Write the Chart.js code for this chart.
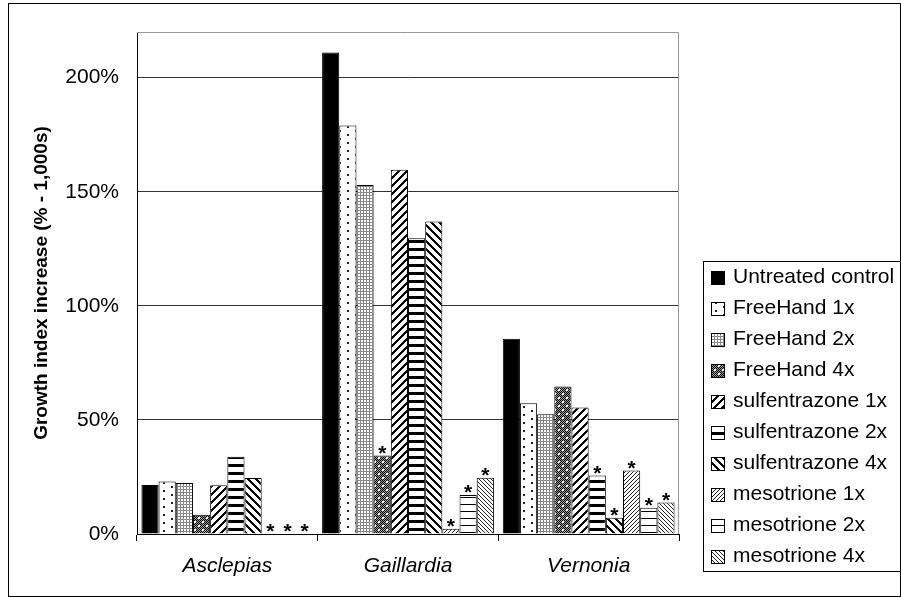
<!DOCTYPE html>
<html>
<head>
<meta charset="utf-8">
<script src="https://cdn.jsdelivr.net/npm/chart.js@4/dist/chart.umd.min.js"></script>
<style>
  html, body { margin: 0; padding: 0; background: #fff; }
  canvas { display: block; }
</style>
</head>
<body>
<canvas id="growthChart" width="901" height="598"></canvas>
<script>
// values (percent growth index increase)
const categories = ['Asclepias', 'Gaillardia', 'Vernonia'];
const seriesNames = ['Untreated control', 'FreeHand 1x', 'FreeHand 2x', 'FreeHand 4x',
    'sulfentrazone 1x', 'sulfentrazone 2x', 'sulfentrazone 4x',
    'mesotrione 1x', 'mesotrione 2x', 'mesotrione 4x'];
const untreated = [21.5, 211, 85.6];
const freeHand1x = [23, 179, 57.3];
const freeHand2x = [22.3, 153, 52.5];
const freeHand4x = [8.4, 34.4, 64.6];
const sulfentrazone1x = [21.4, 159.6, 55.4];
const sulfentrazone2x = [33.9, 129.6, 25.6];
const sulfentrazone4x = [24.5, 137, 7.1];
const mesotrione1x = [0, 2.3, 27.8];
const mesotrione2x = [0, 17.1, 11.5];
const mesotrione4x = [0, 24.6, 13.8];
const yTicks = [0, 50, 100, 150, 200];
// series index that carry an asterisk, per category
const starsAsclepias = [7, 8, 9];
const starsGaillardia = [3, 7, 8, 9];
const starsVernonia = [5, 6, 7, 8, 9];

const ctx = document.getElementById('growthChart').getContext('2d');

// small black & white tiles, like the old excel fills
function tile(w, h, paint) {
    const c = document.createElement('canvas');
    c.width = w; c.height = h;
    const g = c.getContext('2d');
    g.fillStyle = '#fff';
    g.fillRect(0, 0, w, h);
    for (let y = 0; y < h; y++) {
        for (let x = 0; x < w; x++) {
            const col = paint(x, y);
            if (col) { g.fillStyle = col; g.fillRect(x, y, 1, 1); }
        }
    }
    return ctx.createPattern(c, 'repeat');
}

const fills = [
    '#000',
    tile(16, 8, (x, y) => ((x >= 3 && x < 5 && y >= 2 && y < 4) || (x >= 11 && x < 13 && y >= 6 && y < 8)) ? '#222' : null),
    tile(3, 3, (x, y) => (x === 0 || y === 0) ? '#888' : null),
    tile(8, 8, (x, y) => {
        if ((x === 2 || x === 3) && (y === 1 || y === 2)) return '#fff';
        if ((x === 6 || x === 7) && (y === 5 || y === 6)) return '#fff';
        return (x + y) % 2 === 0 ? '#000' : '#999';
    }),
    tile(8, 8, (x, y) => ((x + y) % 8) < 3 ? '#000' : null),
    tile(8, 8, (x, y) => (y % 8) < 3 ? '#000' : null),
    tile(8, 8, (x, y) => ((x - y + 8) % 8) < 3 ? '#000' : null),
    tile(4, 4, (x, y) => ((x + y) % 4) === 0 ? '#222' : null),
    tile(7, 7, (x, y) => y === 0 ? '#000' : null),
    tile(4, 4, (x, y) => ((x - y + 4) % 4) === 0 ? '#222' : null)
];

const seriesData = [untreated, freeHand1x, freeHand2x, freeHand4x, sulfentrazone1x,
    sulfentrazone2x, sulfentrazone4x, mesotrione1x, mesotrione2x, mesotrione4x];
const starLists = [starsAsclepias, starsGaillardia, starsVernonia];

const datasets = seriesData.map((vals, i) => ({
    label: seriesNames[i],
    data: vals,
    backgroundColor: fills[i],
    borderColor: '#000',
    borderWidth: 1,
    categoryPercentage: 0.951,
    barPercentage: 1.0
}));

const asteriskPlugin = {
    id: 'asterisks',
    afterDatasetsDraw(chart) {
        const c = chart.ctx;
        c.save();
        c.fillStyle = '#000';
        c.font = 'bold 21px Arial, "Liberation Sans", sans-serif';
        c.textAlign = 'center';
        c.textBaseline = 'alphabetic';
        starLists.forEach((list, catIdx) => {
            list.forEach(si => {
                const bar = chart.getDatasetMeta(si).data[catIdx];
                c.fillText('*', bar.x, bar.y + 4);
            });
        });
        c.restore();
    }
};

const framePlugin = {
    id: 'frames',
    beforeDatasetsDraw(chart) {
        const {ctx: c, chartArea: a} = chart;
        c.save();
        c.strokeStyle = '#999';
        c.lineWidth = 1;
        c.beginPath();
        c.moveTo(a.left, a.top + 0.5);
        c.lineTo(a.right - 0.5, a.top + 0.5);
        c.lineTo(a.right - 0.5, a.bottom);
        c.stroke();
        c.restore();
    },
    afterDraw(chart) {
        const c = chart.ctx;
        c.save();
        c.strokeStyle = '#000';
        c.lineWidth = 1;
        c.strokeRect(8.5, 3.5, 892, 593);

        // legend box
        c.strokeRect(703.5, 261.5, 197, 310);
        c.font = '21px Arial, "Liberation Sans", sans-serif';
        c.textAlign = 'left';
        c.textBaseline = 'alphabetic';
        chart.data.datasets.forEach((ds, i) => {
            const base = 283 + 31 * i;
            c.fillStyle = ds.backgroundColor;
            c.fillRect(711, base - 12, 14, 14);
            c.strokeRect(711.5, base - 11.5, 13, 13);
            c.fillStyle = '#000';
            c.fillText(ds.label, 733, base);
        });
        c.restore();
    }
};

const growthChart = new Chart(ctx, {
    type: 'bar',
    data: { labels: categories, datasets: datasets },
    plugins: [asteriskPlugin, framePlugin],
    options: {
        responsive: false,
        animation: false,
        devicePixelRatio: 1,
        layout: { padding: { left: 0, top: 32, right: 222, bottom: 20 } },
        plugins: { legend: { display: false }, tooltip: { enabled: false } },
        scales: {
            x: {
                afterFit: (scale) => { scale.height = 44; },
                grid: { offset: true, drawOnChartArea: false, tickLength: 7, color: '#000' },
                border: { color: '#000' },
                ticks: {
                    color: '#000',
                    padding: 13,
                    font: { family: 'Arial, "Liberation Sans", sans-serif', size: 21, style: 'italic' }
                }
            },
            y: {
                min: 0,
                max: 220,
                afterFit: (scale) => { scale.width = 137; },
                afterBuildTicks: (scale) => { scale.ticks = yTicks.map(v => ({ value: v })); },
                grid: { color: '#333', drawTicks: false },
                border: { color: '#000' },
                ticks: {
                    color: '#000',
                    padding: 18,
                    font: { family: 'Arial, "Liberation Sans", sans-serif', size: 21 },
                    callback: (v) => v + '%'
                },
                title: {
                    display: true,
                    text: 'Growth index increase (% - 1,000s)',
                    color: '#000',
                    padding: { top: 30, bottom: 4 },
                    font: { family: 'Arial, "Liberation Sans", sans-serif', size: 19, weight: 'bold' }
                }
            }
        }
    }
});
</script>
</body>
</html>
